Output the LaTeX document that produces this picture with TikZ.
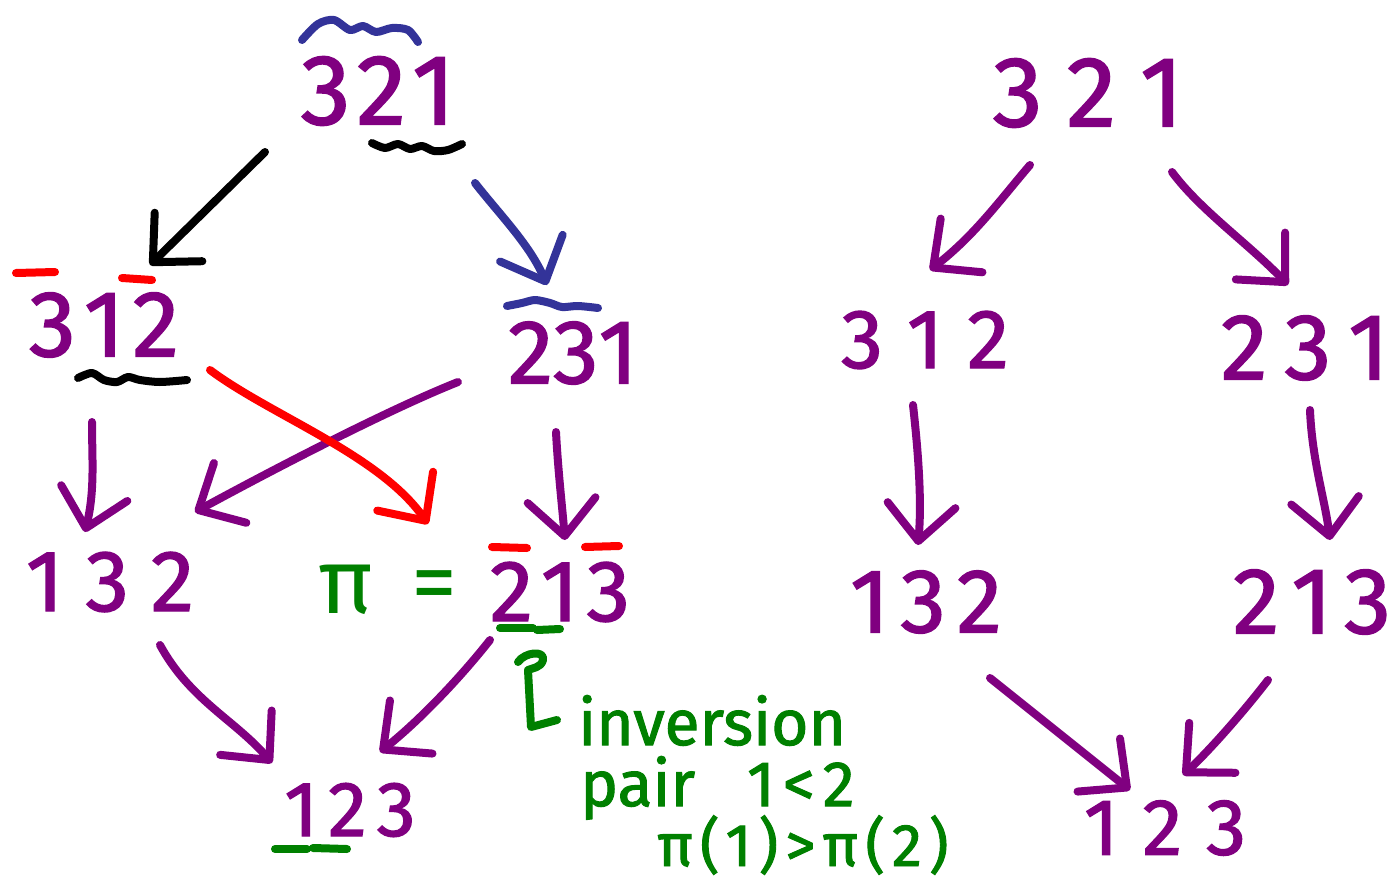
\documentclass[tikz,border=0pt]{standalone}
\usepackage{fontspec}
\setmainfont{Fira Sans}
\newfontfamily\hand{Fira Sans}[FakeBold=1.6]
\usetikzlibrary{arrows.meta,calc}
\definecolor{hpurple}{RGB}{128,0,128}
\definecolor{hblue}{RGB}{51,51,153}
\definecolor{hred}{RGB}{255,0,0}
\definecolor{hgreen}{RGB}{0,128,0}
\newcommand\dgs[4]{#1\hspace{#4}#2\hspace{#4}#3}
\newcommand\fs[1]{\fontsize{#1}{#1}\selectfont}
\begin{document}
\begin{tikzpicture}[x=1pt,y=-1pt,
 pen/.style={line width=8pt,line cap=round,line join=round},
 arr/.style={pen,-{Straight Barb[length=36pt,width=68pt,round]}},
 perm/.style={inner sep=0pt,text=hpurple},
 note/.style={inner sep=0pt,text=hgreen,font=\hand\fs{64},anchor=base west}]
\useasboundingbox[fill=white] (0,0) rectangle (1392,886);
% left lattice
\node[perm,font=\hand\fs{100}] (a321) at (378,91) {\dgs{3}{2}{1}{6pt}};
\node[perm,font=\hand\fs{94}] (a312) at (104,325) {\dgs{3}{1}{2}{8pt}};
\node[perm,font=\hand\fs{91}] (a231) at (573,353) {\dgs{2}{3}{1}{0pt}};
\node[perm,font=\hand\fs{87}] (a132) at (110,582) {\dgs{1}{3}{2}{22pt}};
\node[perm,font=\hand\fs{87}] (a213) at (560,592) {\dgs{2}{1}{3}{8pt}};
\node[perm,font=\hand\fs{78}] (a123) at (350,810) {\dgs{1}{2}{3}{10pt}};
\node[inner sep=0pt,text=hgreen,font=\fs{92}] (pi) at (388,590) {π\hspace{38pt}=};
% right lattice
\node[perm,font=\hand\fs{100}] (b321) at (1088,93) {\dgs{3}{2}{1}{24pt}};
\node[perm,font=\hand\fs{84}] (b312) at (925,340) {\dgs{3}{1}{2}{24pt}};
\node[perm,font=\hand\fs{94}] (b231) at (1305,348) {\dgs{2}{3}{1}{17pt}};
\node[perm,font=\hand\fs{91}] (b132) at (926,602) {\dgs{1}{3}{2}{11pt}};
\node[perm,font=\hand\fs{94}] (b213) at (1312,602) {\dgs{2}{1}{3}{12pt}};
\node[perm,font=\hand\fs{80}] (b123) at (1165,828) {\dgs{1}{2}{3}{24pt}};
% green notes
\node[note] (t1) at (578,745) {inversion};
\node[note] (t2) at (580,806) {pair\hspace{52pt}1\hspace{8pt}<\hspace{8pt}2};
\node[note,font=\hand\fs{60}\addfontfeature{LetterSpace=12}] (t3) at (657,866) {π(1)>π(2)};
% left arrows
\draw[arr,black] ($(a321)+(-113,61)$) -- ($(a312)+(46,-60)$);
\draw[arr,hblue] ($(a321)+(97,92)$) .. controls (500,215) and (530,245) .. ($(a231)+(-26,-68)$);
\draw[arr,hpurple] ($(a312)+(-12,97)$) .. controls (92,460) and (95,490) .. ($(a132)+(-25,-50)$);
\draw[arr,hpurple] ($(a231)+(-115,29)$) .. controls (400,405) and (300,455) .. ($(a132)+(85,-70)$);
\draw[arr,hred] ($(a312)+(106,45)$) .. controls (270,415) and (380,455) .. ($(a213)+(-132,-68)$);
\draw[arr,hpurple] ($(a231)+(-17,79)$) .. controls (558,470) and (562,505) .. ($(a213)+(5,-52)$);
\draw[arr,hpurple] ($(a132)+(50,63)$) .. controls (190,700) and (235,720) .. ($(a123)+(-78,-47)$);
\draw[arr,hpurple] ($(a213)+(-70,48)$) .. controls (460,678) and (420,720) .. ($(a123)+(30,-58)$);
% right arrows
\draw[arr,hpurple] ($(b321)+(-58,72)$) .. controls (1000,200) and (975,235) .. ($(b312)+(5,-70)$);
\draw[arr,hpurple] ($(b321)+(84,79)$) .. controls (1200,210) and (1250,245) .. ($(b231)+(-17,-63)$);
\draw[arr,hpurple] ($(b312)+(-12,65)$) .. controls (918,450) and (922,500) .. ($(b132)+(-8,-57)$);
\draw[arr,hpurple] ($(b231)+(5,62)$) .. controls (1312,460) and (1325,500) .. ($(b213)+(18,-62)$);
\draw[arr,hpurple] ($(b132)+(64,76)$) -- ($(b123)+(-35,-38)$);
\draw[arr,hpurple] ($(b213)+(-44,78)$) .. controls (1245,710) and (1210,750) .. ($(b123)+(18,-53)$);
% marks
\draw[pen,hblue] plot[smooth] coordinates {(302,40) (318,24) (334,20) (350,30) (363,26) (376,32) (392,28) (408,30) (418,42)};
\draw[pen,black] plot[smooth] coordinates {(372,143) (385,148) (398,144) (410,149) (422,146) (434,151) (448,150) (462,144)};
\draw[pen,hred] (16,273) -- (55,272);
\draw[pen,hred] (122,278) -- (152,280);
\draw[pen,black] plot[smooth] coordinates {(78,378) (92,373) (104,380) (117,382) (128,377) (140,380) (160,382) (187,380)};
\draw[pen,hblue] plot[smooth] coordinates {(507,306) (522,303) (535,300) (550,303) (562,307) (578,306) (598,308)};
\draw[pen,hred] (492,547) -- (527,548);
\draw[pen,hred] (585,547) -- (619,546);
\draw[pen,hgreen] (500,628) -- (533,628);
\draw[pen,hgreen] (537,630) -- (560,629);
\draw[pen,hgreen] (275,849) -- (307,849);
\draw[pen,hgreen] (313,848) -- (347,849);
\draw[pen,hgreen] (518,662) .. controls (525,652) and (545,650) .. (543,660) .. controls (541,668) and (532,668) .. (528,670) -- (531,727) -- (557,720);
\end{tikzpicture}
\end{document}
